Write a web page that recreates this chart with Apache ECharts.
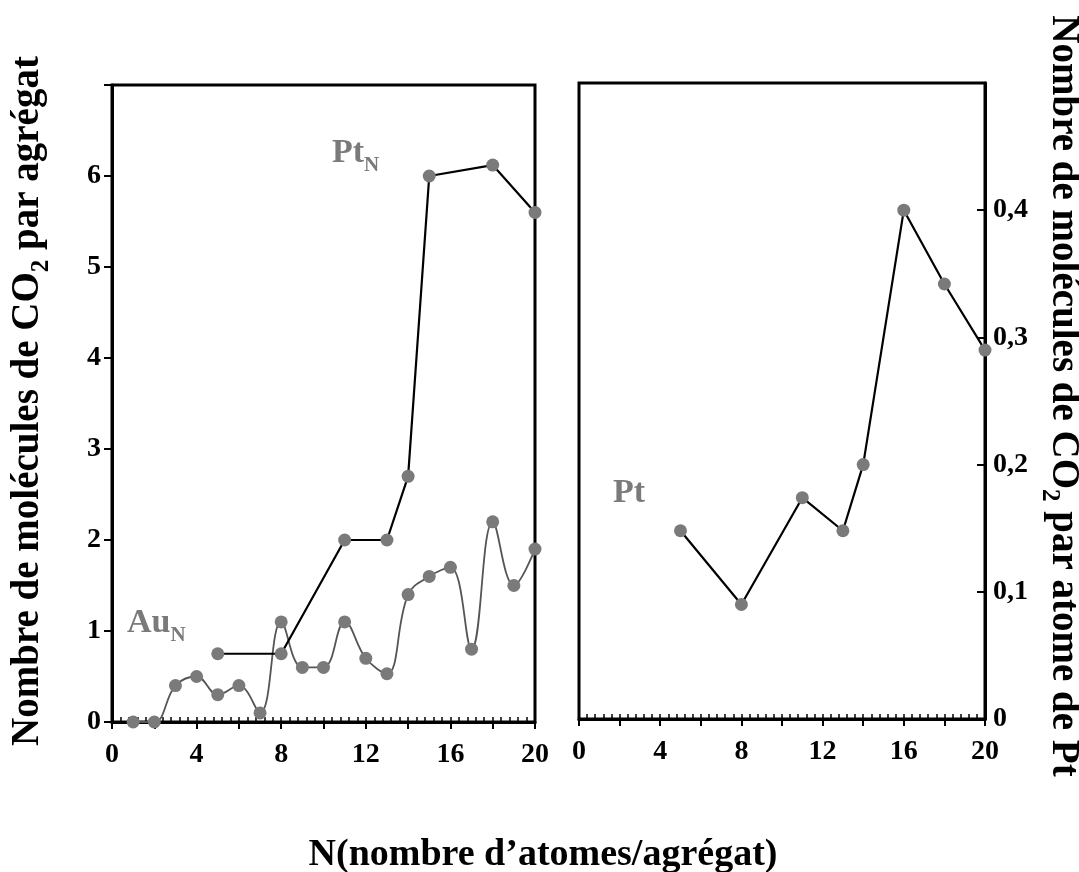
<!DOCTYPE html>
<html>
<head>
<meta charset="utf-8">
<title>CO2 par agrégat</title>
<script src="https://cdn.jsdelivr.net/npm/echarts@6/dist/echarts.min.js"></script>
<style>
  html, body { margin: 0; padding: 0; background: #fff; }
  #chart { width: 1079px; height: 872px; }
</style>
</head>
<body>
<div id="chart"></div>
<script>
// Au_N : molécules de CO2 par agrégat
const auN = [1, 2, 3, 4, 5, 6, 7, 8, 9, 10, 11, 12, 13, 14, 15, 16, 17, 18, 19, 20]
const auValues = [0, 0, 0.4, 0.5, 0.3, 0.4, 0.1, 1.1, 0.6, 0.6, 1.1, 0.7, 0.53, 1.4, 1.6, 1.7, 0.8, 2.2, 1.5, 1.9]
// Pt_N : molécules de CO2 par agrégat
const ptN = [5, 8, 11, 13, 14, 15, 18, 20]
const ptValues = [0.75, 0.75, 2.0, 2.0, 2.7, 6.0, 6.12, 5.6]
// Pt : molécules de CO2 par atome
const ptAtomN = [5, 8, 11, 13, 14, 16, 18, 20]
const ptAtomValues = [0.148, 0.09, 0.174, 0.148, 0.2, 0.4, 0.342, 0.29]

const FONT = '"Liberation Serif", "Times New Roman", serif'
const GREY = '#7a7a7a'
const DESCENT = 0.216

const chart = echarts.init(document.getElementById('chart'), null, { renderer: 'canvas' })

const ctx = document.createElement('canvas').getContext('2d')
const textWidth = (s, size) => {
  ctx.font = `bold ${size}px ${FONT}`
  return ctx.measureText(s).width
}

// pieces = [[text, isSub], ...] ; baseline sits at y = 0 of the group
const subText = (pieces, size, subSize, color) => {
  let x = 0
  const children = pieces.map(([t, isSub]) => {
    const fs = isSub ? subSize : size
    const el = {
      type: 'text',
      x: x,
      y: (isSub ? size * 0.26 : 0) + fs * DESCENT,
      style: { text: t, font: `bold ${fs}px ${FONT}`, fill: color, verticalAlign: 'bottom' }
    }
    x += textWidth(t, fs)
    return el
  })
  return { children, width: x }
}

const leftTitle = subText([['Nombre de molécules de CO', false], ['2', true], [' par agrégat', false]], 39, 25, '#000')
const rightTitle = subText([['Nombre de molécules de CO', false], ['2', true], [' par atome de Pt', false]], 39, 25, '#000')
const bottomTitle = subText([['N(nombre d\u2019atomes/agrégat)', false]], 38, 25, '#000')
const ptNLabel = subText([['Pt', false], ['N', true]], 34, 21, GREY)
const auNLabel = subText([['Au', false], ['N', true]], 34, 21, GREY)
const ptLabel = subText([['Pt', false]], 34, 21, GREY)

const labelStyle = { color: '#000', fontFamily: FONT, fontWeight: 'bold', fontSize: 28 }

const mainX = (gridIndex) => ({
  type: 'value',
  gridIndex,
  position: 'bottom',
  min: 0,
  max: 20,
  interval: 2,
  axisLine: { onZero: false, lineStyle: { color: '#000', width: 3 } },
  axisTick: { length: 7, lineStyle: { color: '#000', width: 2 } },
  axisLabel: { ...labelStyle, margin: 19, formatter: (v) => (v % 4 === 0 ? String(v) : '') },
  splitLine: { show: false }
})

// second axis on the same place, only for the small inward ticks
const minorX = (gridIndex) => ({
  type: 'value',
  gridIndex,
  position: 'bottom',
  min: 0,
  max: 20,
  interval: 2,
  axisLine: { show: false, onZero: false },
  axisTick: { inside: true, length: 5, lineStyle: { color: '#000', width: 1.5 } },
  minorTick: { show: true, splitNumber: 5, length: 5, lineStyle: { color: '#000', width: 1.5 } },
  axisLabel: { show: false },
  splitLine: { show: false }
})

const option = {
  animation: false,
  backgroundColor: '#fff',
  grid: [
    { left: 112, top: 85, width: 423, height: 637, show: true, borderColor: '#000', borderWidth: 3 },
    { left: 579, top: 83, width: 406, height: 636, show: true, borderColor: '#000', borderWidth: 3 }
  ],
  xAxis: [mainX(0), minorX(0), mainX(1), minorX(1)],
  yAxis: [
    {
      type: 'value',
      gridIndex: 0,
      min: 0,
      max: 7,
      interval: 1,
      axisLine: { show: true, onZero: false, lineStyle: { color: '#000', width: 3 } },
      axisTick: { show: true, length: 8, lineStyle: { color: '#000', width: 2 } },
      axisLabel: { ...labelStyle, margin: 11, formatter: (v) => (v === 7 ? '' : String(v)) },
      splitLine: { show: false }
    },
    {
      type: 'value',
      gridIndex: 1,
      position: 'right',
      min: 0,
      max: 0.5,
      interval: 0.1,
      axisLine: { show: true, onZero: false, lineStyle: { color: '#000', width: 3 } },
      axisTick: { show: true, inside: true, length: 8, lineStyle: { color: '#000', width: 2 } },
      axisLabel: {
        ...labelStyle,
        margin: 8,
        formatter: (v) => {
          const k = Math.round(v * 10)
          if (k >= 5) return ''
          return k === 0 ? '0' : '0,' + k
        }
      },
      splitLine: { show: false }
    }
  ],
  series: [
    {
      name: 'AuN',
      type: 'line',
      xAxisIndex: 0,
      yAxisIndex: 0,
      data: auN.map((n, i) => [n, auValues[i]]),
      smooth: 0.4,
      symbol: 'circle',
      symbolSize: 13,
      itemStyle: { color: GREY },
      lineStyle: { color: '#555', width: 1.8 },
      z: 3
    },
    {
      name: 'PtN',
      type: 'line',
      xAxisIndex: 0,
      yAxisIndex: 0,
      data: ptN.map((n, i) => [n, ptValues[i]]),
      symbol: 'circle',
      symbolSize: 13,
      itemStyle: { color: GREY },
      lineStyle: { color: '#000', width: 2.2 },
      z: 4
    },
    {
      name: 'Pt',
      type: 'line',
      xAxisIndex: 2,
      yAxisIndex: 1,
      data: ptAtomN.map((n, i) => [n, ptAtomValues[i]]),
      symbol: 'circle',
      symbolSize: 13,
      itemStyle: { color: GREY },
      lineStyle: { color: '#000', width: 2.2 },
      z: 4
    }
  ],
  graphic: [
    { type: 'group', x: 39, y: 401 + leftTitle.width / 2, rotation: Math.PI / 2, children: leftTitle.children },
    { type: 'group', x: 1052, y: 396 - rightTitle.width / 2, rotation: -Math.PI / 2, children: rightTitle.children },
    { type: 'group', x: 543 - bottomTitle.width / 2, y: 866, children: bottomTitle.children },
    { type: 'group', x: 332, y: 163, children: ptNLabel.children },
    { type: 'group', x: 127, y: 633, children: auNLabel.children },
    { type: 'group', x: 613, y: 503, children: ptLabel.children }
  ]
}

chart.setOption(option)
window.addEventListener('resize', function () {
  chart.resize()
})
</script>
</body>
</html>
